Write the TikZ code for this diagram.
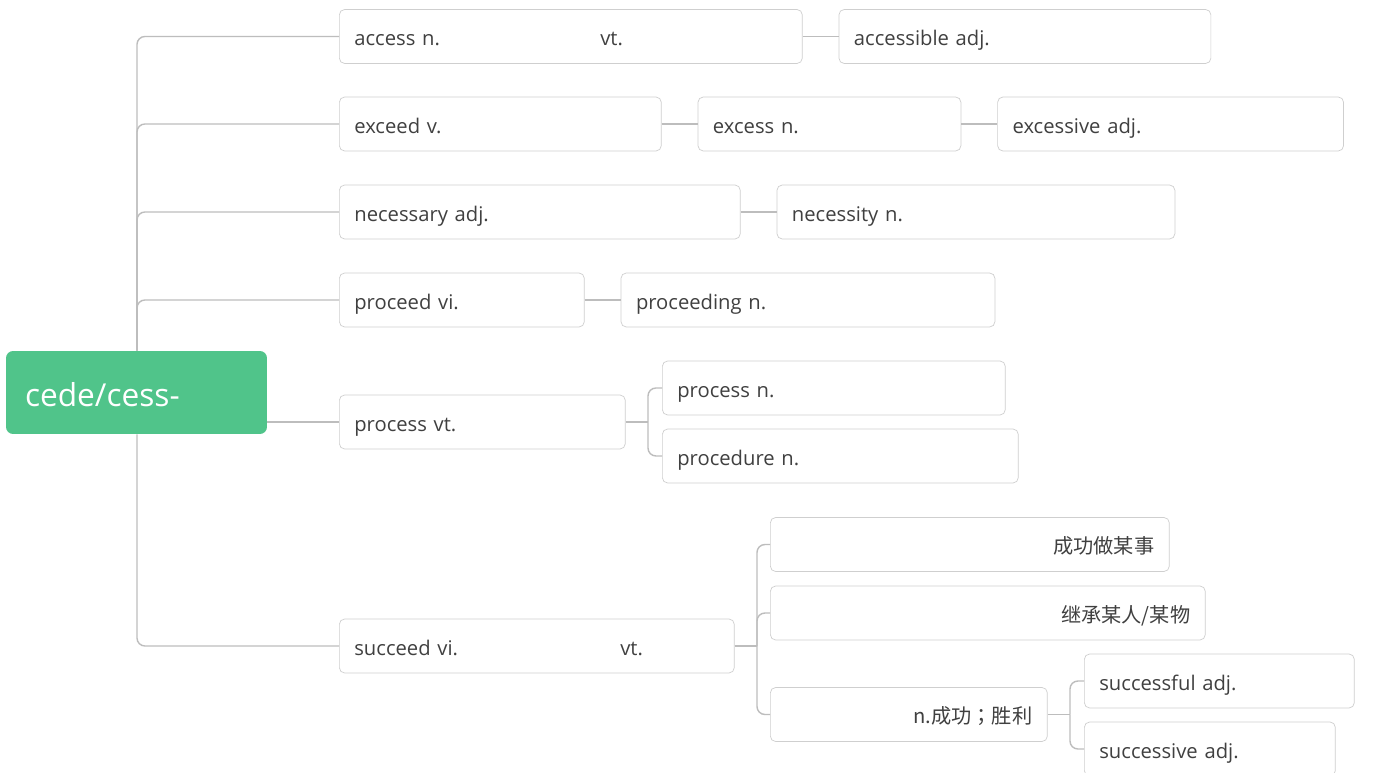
\documentclass[tikz,border=0pt]{standalone}
\usepackage{fontspec}
\setmainfont{Open Sans}
\newfontfamily\cjk{Noto Sans CJK SC}
\newfontfamily\cjkpunct{Noto Sans CJK TC}
\usetikzlibrary{positioning}
\definecolor{rootgreen}{HTML}{50C48A}
\definecolor{wordtext}{HTML}{404040}
\definecolor{edgegray}{HTML}{BDBDBD}
\definecolor{boxgray}{HTML}{CFCFCF}
\tikzset{root node/.style={fill=rootgreen,rounded corners=4pt,text=white,font=\fontsize{18}{20}\selectfont,text width=4.46cm,inner xsep=0.38cm,text height=0.75cm,text depth=0.17cm,minimum height=1.66cm,align=left},
word node/.style={draw=boxgray,fill=white,rounded corners=3pt,text=wordtext,font=\fontsize{11.5}{13}\selectfont,minimum height=1.08cm,inner xsep=0.3cm,text height=0.5cm,text depth=0.12cm,align=left,anchor=west},
link/.style={draw=edgegray,line width=0.8pt,rounded corners=4.5pt},
}

\begin{document}
\begin{tikzpicture}[x=0.02cm,y=-0.02cm]
				\fill[white] (0,0) rectangle (1373,773);
				\useasboundingbox (0,0) rectangle (1373,773);
				
				\node[root node] (root) at (136.5,392.5) {cede/cess-};
				\coordinate (spine) at (137,0);
				
				\node[word node,text width=8.66cm] (access) at (339,36.5) {\makebox[4.92cm][l]{access n.}vt.};
				\node[word node,text width=6.84cm] (accessible) [right =0.72cm of access] {accessible adj.};
				\node[word node,text width=5.84cm] (exceed) at (339,124) {exceed v.};
				\node[word node,text width=4.66cm] (excess) [right =0.72cm of exceed] {excess n.};
				\node[word node,text width=6.32cm] (excessive) [right =0.72cm of excess] {excessive adj.};
				\node[word node,text width=7.42cm] (necessary) at (339,212) {necessary adj.};
				\node[word node,text width=7.36cm] (necessity) [right =0.72cm of necessary] {necessity n.};
				\node[word node,text width=4.30cm] (proceed) at (339,300) {proceed vi.};
				\node[word node,text width=6.88cm] (proceeding) [right =0.72cm of proceed] {proceeding n.};
				\node[word node,text width=5.12cm] (processvt) at (339,422) {process vt.};
				\node[word node,text width=6.26cm] (processn) at (662,388) {process n.};
				\node[word node,text width=6.52cm] (procedure) at (662,456) {procedure n.};
				\node[word node,text width=7.30cm] (succeed) at (339,646) {\makebox[5.32cm][l]{succeed vi.}vt.};
				\node[word node,text width=7.38cm,align=right] (doing) at (770,544.5) {\cjk 成功做某事};
				\node[word node,text width=8.10cm,align=right] (inherit) at (770,613) {\cjk 继承某人/某物};
				\node[word node,text width=4.94cm,align=right] (success) at (770,714.5) {\cjk n.成功{\cjkpunct ；}胜利};
				\node[word node,text width=4.80cm] (successful) at (1084,681) {successful adj.};
				\node[word node,text width=4.42cm] (successive) at (1084,749) {successive adj.};
				
				% branches off the root
				\foreach \w in {access,exceed,necessary,proceed}
				\draw[link] (root.north -| spine) |- (\w.west);
				\draw[link] (root.south -| spine) |- (succeed.west);
				\draw[link] (root.east |- processvt.west) -- (processvt.west);
				
				\path[link]
				(access) edge (accessible)
				(exceed) edge (excess)
				(excess) edge (excessive)
				(necessary) edge (necessity)
				(proceed) edge (proceeding);
				
				% forks
				\coordinate (pj) at (648,422);
				\draw[link] (processvt) -- (pj);
				\foreach \w in {processn,procedure}
				\draw[link] (pj) |- (\w.west);
				
				\coordinate (sj) at (757,646);
				\draw[link] (succeed) -- (sj);
				\foreach \w in {doing,inherit,success}
				\draw[link] (sj) |- (\w.west);
				
				\coordinate (nj) at (1070,714.5);
				\draw[link] (success) -- (nj);
				\foreach \w in {successful,successive}
				\draw[link] (nj) |- (\w.west);
				
			\end{tikzpicture}
\end{document}
